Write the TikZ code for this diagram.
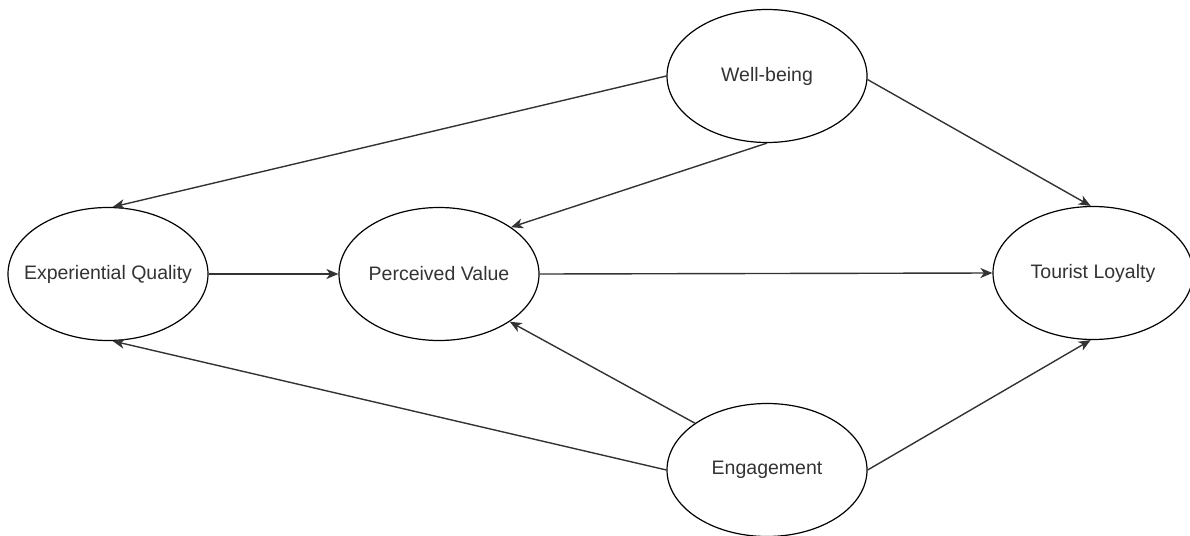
\documentclass[tikz,border=0pt]{standalone}
\usepackage{fontspec}
\setmainfont{Liberation Sans}
\usetikzlibrary{shapes.geometric,arrows.meta}
\definecolor{txt}{HTML}{333333}
\definecolor{edge}{HTML}{333333}
\begin{document}
\begin{tikzpicture}[x=1pt,y=-1pt,
  construct/.style={ellipse,draw=black,line width=1.2pt,fill=white,
    minimum width=200pt,minimum height=133pt,inner sep=0pt,
    text=txt,font=\fontsize{19.5}{23}\selectfont},
  link/.style={draw=edge,line width=1.4pt,
    -{Stealth[length=12pt,width=10pt,inset=3.5pt]}}]
\useasboundingbox (0,0) rectangle (1190,535);
% labels are boxed at zero width so every ellipse keeps the same size
\node[construct] (wb) at (767,76)  {\makebox[0pt]{Well-being}};
\node[construct] (eq) at (108,274) {\makebox[0pt]{Experiential Quality}};
\node[construct] (pv) at (439,274) {\makebox[0pt]{Perceived Value}};
\node[construct] (tl) at (1093,273) {\makebox[0pt]{Tourist Loyalty}};
\node[construct] (en) at (767,470) {\makebox[0pt]{Engagement}};

\draw[link] (wb.180) -- (eq.86);
\draw[link] (wb.270) -- (pv.33);
\draw[link] (wb.358) -- (tl.92);
\draw[link] (eq.0) -- (pv.180);
\draw[link] (pv.0) -- (tl.180);
\draw[link] (en.180) -- (eq.274);
\draw[link] (en.147) -- (pv.326);
\draw[link] (en.0) -- (tl.268);
\end{tikzpicture}
\end{document}
